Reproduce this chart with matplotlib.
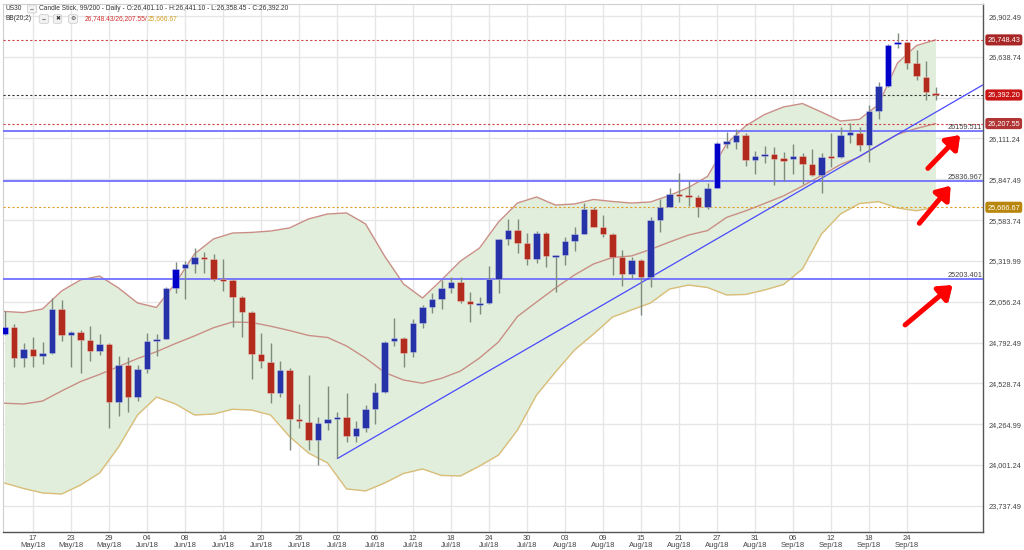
import matplotlib
matplotlib.use('Agg')
import matplotlib.pyplot as plt
import matplotlib.patheffects as pe
from matplotlib.transforms import blended_transform_factory
import numpy as np

plt.rcParams['font.family'] = ['Liberation Sans', 'DejaVu Sans']

# ---------------- data ----------------
opens = [24847, 24893, 24694, 24751, 24703, 24723, 25011, 24839, 24858, 24809,
         24738, 24781, 24408, 24647, 24438, 24621, 24804, 24817, 25147, 25276,
         25302, 25347, 25334, 25198, 25197, 25087, 24988, 24718, 24668, 24464,
         24615, 24298, 24281, 24160, 24272, 24296, 24309, 24188, 24238, 24363,
         24471, 24802, 24822, 24729, 24917, 25024, 25074, 25143, 25182, 25061,
         25037, 25046, 25205, 25462, 25522, 25434, 25334, 25498, 25347, 25358,
         25449, 25496, 25653, 25541, 25492, 25343, 25233, 25326, 25214, 25584,
         25670, 25748, 25748, 25735, 25670, 25791, 26078, 26087, 26136, 25970,
         26000, 26009, 25977, 25977, 26000, 25944, 25877, 25994, 25992, 26136,
         26147, 26067, 26287, 26449, 26720, 26735, 26599, 26511, 26401.10]
highs = [24996, 24912, 24791, 24830, 24798, 25078, 25067, 24866, 24873, 24901,
         24846, 24787, 24705, 24701, 24647, 24852, 24849, 25153, 25315, 25321,
         25401, 25379, 25365, 25330, 25200, 25090, 24996, 24852, 24787, 24673,
         24626, 24393, 24580, 24313, 24511, 24345, 24468, 24283, 24387, 24529,
         24804, 24949, 24830, 24944, 25035, 25111, 25197, 25218, 25214, 25121,
         25085, 25287, 25462, 25591, 25591, 25502, 25513, 25509, 25361, 25472,
         25541, 25696, 25670, 25617, 25498, 25390, 25347, 25329, 25606, 25720,
         25789, 25886, 25836, 25746, 25822, 26091, 26155, 26175, 26145, 26030,
         26063, 26058, 26026, 26076, 26019, 26041, 26016, 26145, 26184, 26213,
         26184, 26330, 26476, 26722, 26795, 26738, 26683, 26614, 26441.10]
lows = [24841, 24634, 24636, 24632, 24654, 24721, 24804, 24632, 24597, 24673,
        24712, 24242, 24319, 24341, 24414, 24593, 24705, 24813, 25111, 25072,
        25244, 25244, 25190, 25125, 24891, 24826, 24555, 24628, 24403, 24442,
        24098, 24238, 24098, 24001, 24227, 24044, 24151, 24151, 24214, 24264,
        24468, 24770, 24632, 24701, 24888, 24981, 25007, 25111, 25050, 24927,
        24975, 25041, 25111, 25421, 25373, 25293, 25304, 25282, 25121, 25293,
        25386, 25494, 25539, 25476, 25229, 25160, 25207, 24970, 25153, 25507,
        25666, 25703, 25675, 25606, 25653, 25788, 26048, 26041, 25935, 25882,
        25951, 25811, 25836, 25882, 25815, 25869, 25757, 25929, 25988, 26080,
        26032, 25961, 26239, 26446, 26694, 26558, 26489, 26360, 26358.45]
closes = [24893, 24692, 24751, 24703, 24723, 25011, 24839, 24858, 24811, 24738,
          24781, 24408, 24647, 24438, 24619, 24800, 24817, 25143, 25270, 25302,
          25343, 25334, 25200, 25192, 25087, 24990, 24718, 24671, 24464, 24615,
          24298, 24283, 24160, 24270, 24296, 24306, 24188, 24238, 24363, 24471,
          24798, 24822, 24727, 24917, 25024, 25072, 25143, 25182, 25063, 25039,
          25046, 25205, 25460, 25522, 25434, 25334, 25498, 25352, 25358, 25447,
          25494, 25653, 25541, 25494, 25345, 25233, 25326, 25214, 25584, 25670,
          25750, 25739, 25735, 25670, 25789, 26084, 26084, 26136, 25972, 26000,
          26009, 25979, 25968, 26000, 25944, 25877, 25994, 25985, 26136, 26147,
          26067, 26287, 26449, 26717, 26735, 26599, 26513, 26410, 26392.20]

bb_idx = list(range(0, 99, 2))
bb_upper = [24993, 24986, 25009, 25125, 25197, 25222, 25145, 25048, 25019, 25177,
            25365, 25462, 25500, 25504, 25513, 25533, 25591, 25623, 25630, 25559,
            25352, 25171, 25080, 25197, 25319, 25403, 25571, 25694, 25733, 25681,
            25688, 25717, 25704, 25694, 25701, 25743, 25794, 25866, 26076, 26192,
            26266, 26315, 26337, 26282, 26224, 26235, 26331, 26599, 26712, 26748.43]
bb_mid = [24400, 24395, 24414, 24479, 24540, 24586, 24637, 24689, 24733, 24786,
          24835, 24888, 24925, 24922, 24898, 24870, 24838, 24825, 24770, 24692,
          24599, 24550, 24529, 24561, 24608, 24692, 24796, 24961, 25054, 25145,
          25229, 25300, 25342, 25352, 25394, 25442, 25487, 25516, 25601, 25643,
          25691, 25740, 25804, 25872, 25943, 25992, 26069, 26138, 26176, 26207.55]
bb_lower = [23884, 23849, 23820, 23813, 23871, 23949, 24117, 24324, 24440, 24395,
            24324, 24330, 24361, 24356, 24324, 24185, 24078, 24014, 23846, 23833,
            23884, 23946, 23975, 23933, 23930, 23994, 24065, 24227, 24453, 24602,
            24744, 24847, 24957, 25003, 25048, 25138, 25164, 25148, 25100, 25103,
            25132, 25167, 25268, 25494, 25623, 25691, 25703, 25662, 25644, 25666.67]

support_levels = [26159.511, 25836.967, 25203.401]
support_labels = ['26159.511', '25836.967', '25203.401']

trend_idx = [35, 103.0]
trend_price = [24041, 26458]

arrow_tails = [(97.2, 25918), (96.3, 25563), (94.8, 24906)]
arrow_heads = [(100.6, 26134), (99.6, 25806), (99.8, 25164)]

ytick_values = [23737.49, 24001.24, 24264.99, 24528.74, 24792.49, 25056.24,
                25319.99, 25583.74, 25847.49, 26111.24, 26374.99, 26638.74, 26902.49]
ytick_labels = ['23,737.49', '24,001.24', '24,264.99', '24,528.74', '24,792.49', '25,056.24',
                '25,319.99', '25,583.74', '25,847.49', '26,111.24', '', '26,638.74', '26,902.49']

xtick_idx = list(range(3, 96, 4))
xtick_days = ['17', '23', '29', '04', '08', '14', '20', '26', '02', '06', '12', '18',
              '24', '30', '03', '09', '15', '21', '27', '31', '06', '12', '18', '24']
xtick_months = ['May/18', 'May/18', 'May/18', 'Jun/18', 'Jun/18', 'Jun/18', 'Jun/18', 'Jun/18',
                'Jul/18', 'Jul/18', 'Jul/18', 'Jul/18', 'Jul/18', 'Jul/18', 'Aug/18', 'Aug/18',
                'Aug/18', 'Aug/18', 'Aug/18', 'Aug/18', 'Sep/18', 'Sep/18', 'Sep/18', 'Sep/18']

last_price = 26392.20
bb_last = [26748.43, 26207.55, 25666.67]

# ---------------- figure ----------------
W, H = 1024, 550
fig = plt.figure(figsize=(W / 100, H / 100), dpi=100)
L, R, T, B = 3, 983, 4, 532
ax = fig.add_axes([L / W, 1 - B / H, (R - L) / W, (B - T) / H])
ax.set_xlim(-0.16, 103.0)
ax.set_ylim(23567.6, 26980.5)

# grid
grid_c = '#e6e6e6'
for yv in ytick_values:
    ax.axhline(yv, color=grid_c, lw=1, zorder=0)
for xv in xtick_idx:
    ax.axvline(xv, color=grid_c, lw=1, zorder=0)

# Bollinger bands
ax.fill_between(bb_idx, bb_lower, bb_upper, color='#e1eedb', zorder=1, lw=0)
ax.plot(bb_idx, bb_upper, color='#c98f86', lw=1, zorder=2)
ax.plot(bb_idx, bb_mid, color='#c98f86', lw=1, zorder=2)
ax.plot(bb_idx, bb_lower, color='#d9bd78', lw=1, zorder=2)

# horizontal reference lines
ax.axhline(bb_last[0], color='#d04545', lw=0.8, ls=(0, (2, 2)), zorder=3)
ax.axhline(last_price, color='#333333', lw=0.8, ls=(0, (2, 2)), zorder=3)
ax.axhline(bb_last[1], color='#d04545', lw=0.8, ls=(0, (2, 2)), zorder=3)
ax.axhline(bb_last[2], color='#e0a030', lw=0.8, ls=(0, (2, 2)), zorder=3)
for lvl, lab in zip(support_levels, support_labels):
    ax.axhline(lvl, color='#6f6fff', lw=1.3, zorder=3)
    ax.text(0.999, lvl, lab, transform=blended_transform_factory(ax.transAxes, ax.transData),
            ha='right', va='bottom', fontsize=5.3, color='#444444', zorder=6)

# trendline
ax.plot(trend_idx, trend_price, color='#4a4aff', lw=0.9, zorder=3, solid_capstyle='butt')

# candles
x = np.arange(len(opens))
o = np.array(opens); c = np.array(closes); hi = np.array(highs); lo = np.array(lows)
up = c >= o
bright = {0, 18, 75, 93, 94}
body_col = []
for i in range(len(o)):
    if up[i]:
        body_col.append('#0000c8' if i in bright else '#2632a8')
    else:
        body_col.append('#b32b1d')
ax.vlines(x, lo, hi, color='#7d8c7d', lw=1, zorder=4)
bottom = np.minimum(o, c)
height = np.maximum(np.abs(c - o), 14)
ax.bar(x, height, bottom=bottom, width=0.72, color=body_col, edgecolor='#ffffff80',
       linewidth=0.4, zorder=5)

# arrows
for (tx, ty), (hx, hy) in zip(arrow_tails, arrow_heads):
    ann = ax.annotate('', xy=(hx, hy), xytext=(tx, ty),
                      arrowprops=dict(arrowstyle='-|>,head_length=0.55,head_width=0.4',
                                      lw=3.6, color='#ff0000', shrinkA=0, shrinkB=0,
                                      mutation_scale=14), zorder=7, annotation_clip=False)
    ann.arrow_patch.set_path_effects([pe.SimplePatchShadow(offset=(1.5, -1.5), shadow_rgbFace='#000000', alpha=0.6),
                                      pe.Normal()])

# axes styling
for s in ['top', 'left']:
    ax.spines[s].set_color('#cfcfcf')
    ax.spines[s].set_linewidth(0.8)
for s in ['right', 'bottom']:
    ax.spines[s].set_color('#555555')
    ax.spines[s].set_linewidth(1.0)

ax.yaxis.tick_right()
ax.set_yticks(ytick_values)
ax.set_yticklabels(ytick_labels)
ax.tick_params(axis='y', length=0, pad=4, labelsize=5.3, labelcolor='#444444')
ax.set_xticks(xtick_idx)
ax.set_xticklabels([d + '\n' + m for d, m in zip(xtick_days, xtick_months)], linespacing=1.0)
ax.tick_params(axis='x', length=0, pad=2, labelsize=5.5, labelcolor='#444444')

# right-side value boxes
btr = blended_transform_factory(ax.transAxes, ax.transData)
box_items = [(bb_last[0], '26,748.43', '#a82626'),
             (last_price, '26,392.20', '#c81414'),
             (bb_last[1], '26,207.55', '#b03434'),
             (bb_last[2], '25,666.67', '#b8860b')]
for val, txt, col in box_items:
    ax.text(1.0045, val, txt, transform=btr, ha='left', va='center', fontsize=5.3,
            color='white', clip_on=False, zorder=8,
            bbox=dict(boxstyle='round,pad=0.28,rounding_size=0.3', fc=col, ec='none'))

# header
def fx(px):
    return px / W
def fy(py):
    return 1 - py / H

hdr_c = '#333333'
hfs = 4.8
fig.text(fx(5), fy(9), 'US30', fontsize=hfs, color=hdr_c, va='center', ha='left')
fig.text(fx(32), fy(9), '\u21d4', fontsize=4.3, color='#555555', va='center', ha='center',
         bbox=dict(boxstyle='round,pad=0.25', fc='#f2f2f2', ec='#c8c8c8', lw=0.5))
fig.text(fx(39), fy(9), 'Candle Stick, 99/200 - Daily - O:26,401.10 - H:26,441.10 - L:26,358.45 - C:26,392.20',
         fontsize=hfs, color=hdr_c, va='center', ha='left')
fig.text(fx(5), fy(19), 'BB(20;2)', fontsize=hfs, color=hdr_c, va='center', ha='left')
for px, sym in [(44, '\u21d4'), (57.5, '\u2716'), (73, '\u2699')]:
    fig.text(fx(px), fy(19), sym, fontsize=4.3, color='#333333', va='center', ha='center',
             bbox=dict(boxstyle='round,pad=0.3', fc='#f2f2f2', ec='#c8c8c8', lw=0.5))
red_txt = fig.text(fx(85), fy(19), '26,748.43/26,207.55/', fontsize=hfs, color='#d03030',
                   va='center', ha='left')
fig.canvas.draw()
ext = red_txt.get_window_extent(renderer=fig.canvas.get_renderer())
fig.text(ext.x1 / W, fy(19), '25,666.67', fontsize=hfs, color='#d4a020', va='center', ha='left')

fig.savefig('out.png', dpi=100)
